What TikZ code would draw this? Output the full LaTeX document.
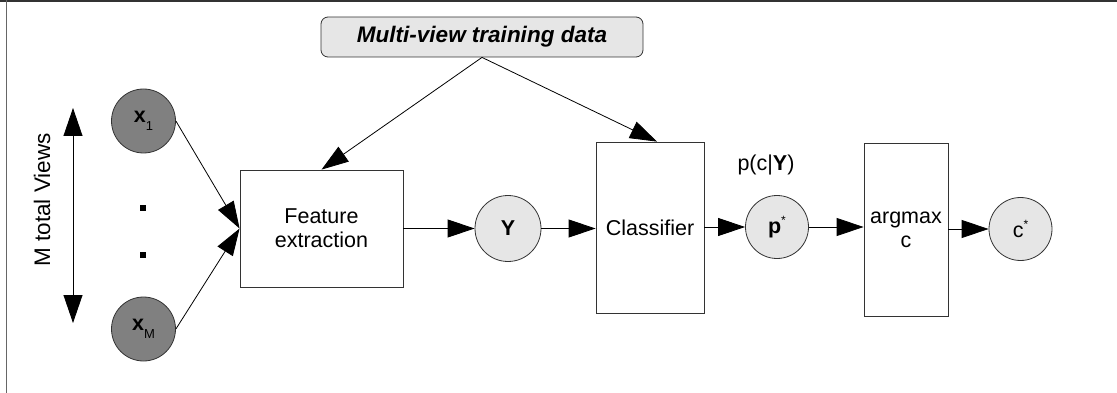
\documentclass[tikz,border=0pt]{standalone}
\usepackage{fontspec}
\setmainfont{Liberation Sans}
\usetikzlibrary{arrows.meta}
\definecolor{lightfill}{HTML}{E6E6E6}
\definecolor{darkfill}{HTML}{808080}
\definecolor{edge}{HTML}{333333}
\begin{document}
\begin{tikzpicture}[x=1pt,y=-1pt,
  font=\fontsize{21.5}{24}\selectfont,
  box/.style={draw=edge, line width=0.8pt, fill=white, inner sep=0pt, align=center},
  lightcirc/.style={circle, draw=edge, line width=0.8pt, fill=lightfill, inner sep=0pt},
  darkcirc/.style={circle, draw=edge, line width=0.8pt, fill=darkfill, inner sep=0pt, minimum size=64pt},
  arr/.style={line width=0.8pt, -{Triangle[length=27pt,width=18pt]}},
  dblarr/.style={line width=0.8pt, {Triangle[length=28pt,width=19pt]}-{Triangle[length=28pt,width=19pt]}},
  dotsq/.style={fill=black, inner sep=0pt, minimum size=6pt},
  sub/.style={},
]
\useasboundingbox (0,0) rectangle (1117,393);
\draw[line width=2pt, edge] (0,1) -- (1117,1);
\draw[line width=1pt, black!60] (6,0) -- (6,393);

% top data box
\node[box, rounded corners=7pt, fill=lightfill, minimum width=322pt, minimum height=40pt,
      font=\fontsize{22.5}{24}\selectfont\bfseries\itshape] (td) at (482,37) {Multi-view training data};

% views
\node[rotate=90, font=\fontsize{22.5}{24}\selectfont] (mtv) at (42,200) {M total Views};
\coordinate (vt) at (73,108);
\coordinate (vb) at (73,323);
\draw[dblarr] (vt) -- (vb);

\node[darkcirc] (x1) at (143.5,121) {\textbf{x}\raisebox{-8pt}{\fontsize{13}{13}\selectfont 1}};
\node[darkcirc] (xM) at (143.5,329) {\textbf{x}\raisebox{-8pt}{\fontsize{13}{13}\selectfont M}};
\node[dotsq] (d1) at (143,207.5) {};
\node[dotsq] (d2) at (143,254.5) {};

% pipeline
\node[box, minimum width=163pt, minimum height=117pt] (fe) at (321.5,228.5) {Feature\\extraction};
\node[lightcirc, minimum size=66pt] (y) at (508,228.5) {\textbf{Y}};
\node[box, minimum width=108pt, minimum height=171pt] (cl) at (650,227.5) {Classifier};
\node[lightcirc, minimum size=63pt] (p) at (777,227) {\textbf{p}\raisebox{9pt}{\fontsize{12}{12}\selectfont *}};
\node (pl) at (766,165) {p(c|\textbf{Y})};
\node[box, minimum width=84pt, minimum height=173pt] (am) at (906,229.5) {argmax\\c};
\node[lightcirc, minimum size=63pt] (c) at (1020.5,229) {c\raisebox{9pt}{\fontsize{12}{12}\selectfont *}};

% connectors
\draw[arr] (x1.east) -- (fe.west);
\draw[arr] (xM.east) -- (fe.west);
\draw[arr] (td.south) -- (fe.north);
\draw[arr] (td.south) -- ([xshift=7pt]cl.north);
\draw[arr] (fe.east |- y.west) -- (y.west);
\draw[arr] (y.east) -- (cl.west |- y.east);
\draw[arr] (cl.east |- p.west) -- (p.west);
\draw[arr] (p.east) -- (am.west |- p.east);
\draw[arr] (am.east |- c.west) -- (c.west);
\end{tikzpicture}
\end{document}
